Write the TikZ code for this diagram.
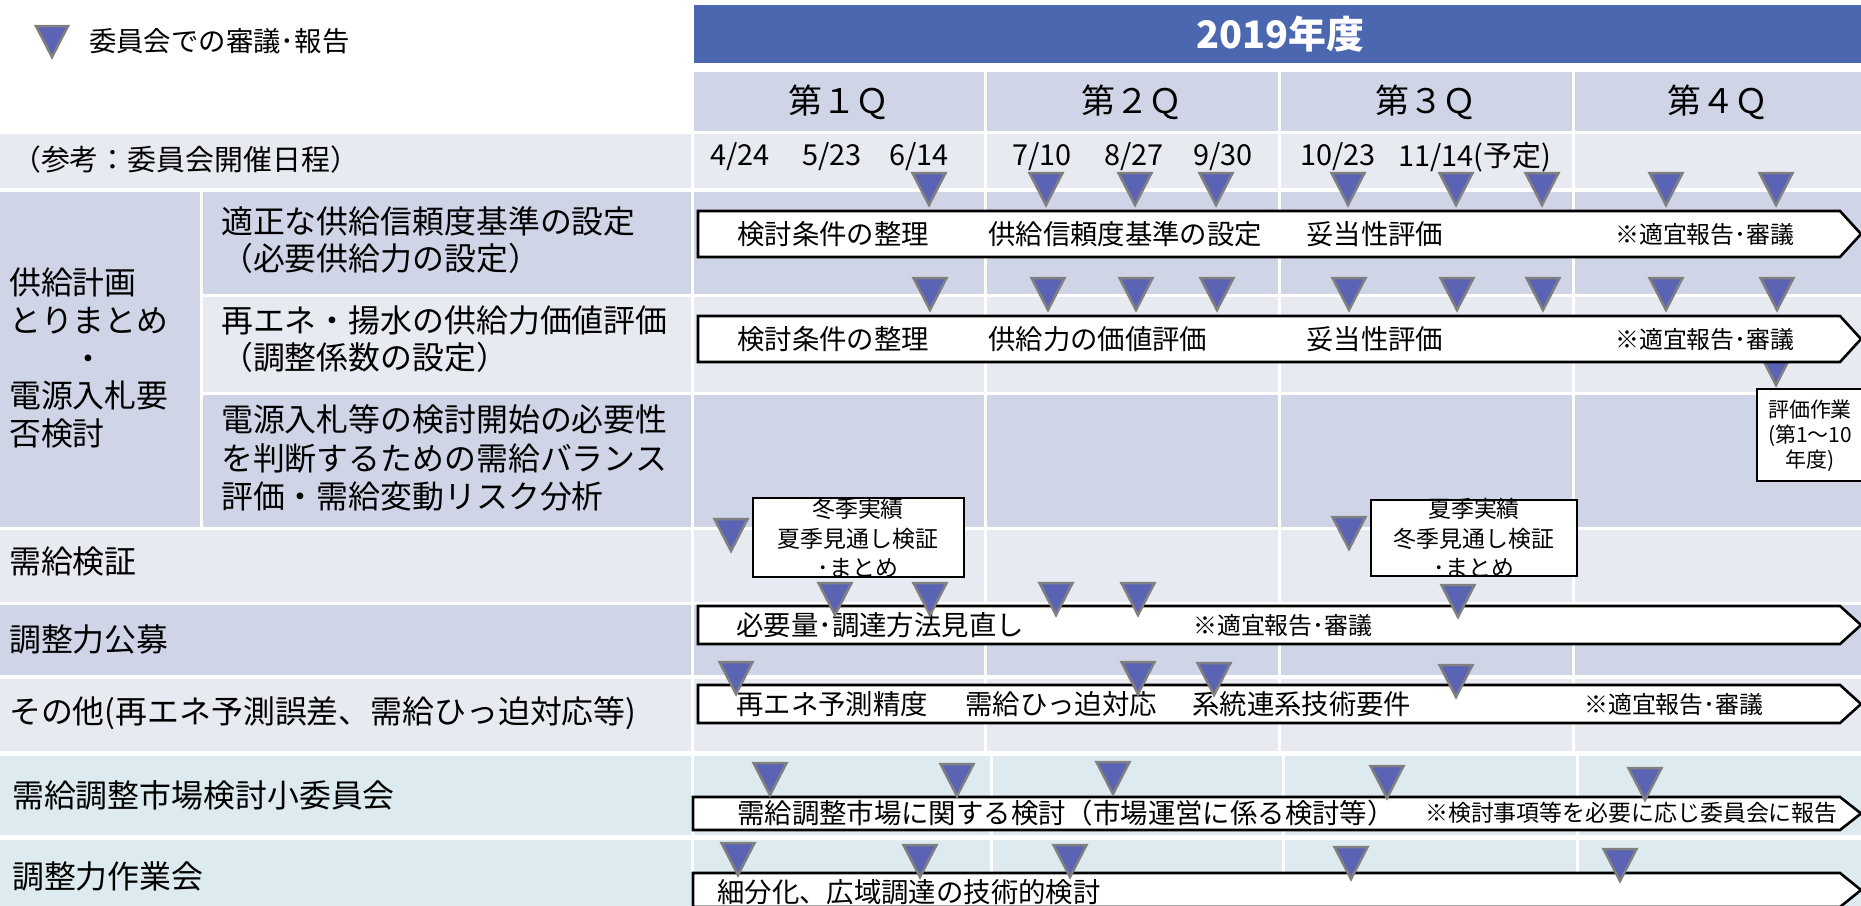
\documentclass[tikz,border=0pt]{standalone}
\usepackage{fontspec}
\setmainfont{Noto Sans CJK JP}
\definecolor{hdrblue}{HTML}{4A67AF}
\definecolor{cdark}{HTML}{CFD5E6}
\definecolor{clight}{HTML}{E8EAF2}
\definecolor{ccyan}{HTML}{DDEAEF}
\definecolor{trifill}{HTML}{5B63B5}
\definecolor{trigray}{HTML}{808080}
\tikzset{
  tri/.style={fill=trifill, draw=trigray, line width=2.5bp, line join=miter},
  barbox/.style={fill=white, draw=black, line width=2.6bp, line join=miter},
  boxnode/.style={fill=white, draw=black, line width=2.4bp},
  lbl/.style={anchor=west, inner sep=0pt, font=\fontsize{32}{38}\selectfont},
  datetxt/.style={anchor=west, inner sep=0pt, font=\fontsize{29}{32}\selectfont},
  qtxt/.style={inner sep=0pt, font=\fontsize{34}{40}\selectfont},
  bartxt/.style={anchor=west, inner sep=0pt, font=\fontsize{27.5}{32}\selectfont},
  notetxt/.style={anchor=west, inner sep=0pt, font=\fontsize{24}{28}\selectfont},
  smalltxt/.style={inner sep=0pt, align=center, font=\fontsize{23}{29.5}\selectfont},
}
\newcommand{\mtri}[2]{\draw[tri] ({#1-16.5},#2) -- ({#1+16.5},#2) -- (#1,{#2+32}) -- cycle;}
\newcommand{\mbar}[3]{\draw[barbox] (#1,#2) -- (1840,#2) -- (1861,{(#2+#3)/2}) -- (1840,#3) -- (#1,#3) -- cycle;}
\newcommand{\tcells}[3]{%
  \fill[#1] (694,#2) rectangle (984,#3);
  \fill[#1] (987,#2) rectangle (1278,#3);
  \fill[#1] (1281,#2) rectangle (1572,#3);
  \fill[#1] (1575,#2) rectangle (1861,#3);}
\newcommand{\ccells}[3]{%
  \fill[#1] (694,#2) rectangle (990,#3);
  \fill[#1] (993,#2) rectangle (1282,#3);
  \fill[#1] (1285,#2) rectangle (1576,#3);
  \fill[#1] (1579,#2) rectangle (1861,#3);}
\begin{document}
\begin{tikzpicture}[x=1bp,y=-1bp]
\useasboundingbox (0,0) rectangle (1861,906);
\clip (0,0) rectangle (1861,906);
\fill[white] (0,0) rectangle (1861,906);
% legend
\draw[tri] (36,26) -- (68,26) -- (52,57) -- cycle;
\node[anchor=west, inner sep=0pt, font=\fontsize{27.5}{30}\selectfont] (legend) at (89,41) {委員会での審議･報告};
% header
\fill[hdrblue] (694,5) rectangle (1861,63);
\node[inner sep=0pt, text=white, font=\fontsize{38}{42}\selectfont\bfseries] (year) at (1280,34) {2019年度};
% quarter row
\tcells{cdark}{72}{131}
\node[qtxt] (q1) at (839,102) {第１Ｑ};
\node[qtxt] (q2) at (1132,102) {第２Ｑ};
\node[qtxt] (q3) at (1426,102) {第３Ｑ};
\node[qtxt] (q4) at (1718,102) {第４Ｑ};
% ref row
\fill[clight] (0,134) rectangle (691,188);
\tcells{clight}{134}{188}
% supply plan group
\fill[cdark] (0,192) rectangle (200,527);
\fill[cdark] (203,192) rectangle (691,294);
\tcells{cdark}{192}{294}
\fill[clight] (203,297) rectangle (691,392);
\tcells{clight}{297}{392}
\fill[cdark] (203,395) rectangle (691,527);
\tcells{cdark}{395}{527}
% other rows
\fill[clight] (0,530) rectangle (691,602);
\tcells{clight}{530}{602}
\fill[cdark] (0,605) rectangle (691,675);
\tcells{cdark}{605}{675}
\fill[clight] (0,679) rectangle (691,751);
\tcells{clight}{679}{751}
\fill[ccyan] (0,756) rectangle (691,835);
\ccells{ccyan}{756}{835}
\fill[ccyan] (0,840) rectangle (691,906);
\ccells{ccyan}{840}{906}
% left labels
\node[lbl, font=\fontsize{29}{34}\selectfont] (ref) at (12,160) {（参考：委員会開催日程）};
\node[lbl, align=left] (grp) at (9,358) {供給計画\\とりまとめ\\\hspace*{2em}・\\電源入札要\\否検討};
\node[lbl, align=left, font=\fontsize{32}{37}\selectfont] (s1) at (221,240) {適正な供給信頼度基準の設定\\（必要供給力の設定）};
\node[lbl, align=left, font=\fontsize{32}{37}\selectfont] (s2) at (221,339) {再エネ・揚水の供給力価値評価\\（調整係数の設定）};
\node[lbl, align=left, font=\fontsize{32}{38.5}\selectfont] (s3) at (221,458) {電源入札等の検討開始の必要性\\を判断するための需給バランス\\評価・需給変動リスク分析};
\node[lbl] (l1) at (9,561) {需給検証};
\node[lbl] (l2) at (9,639) {調整力公募};
\node[lbl] (l3) at (9,713) {その他(再エネ予測誤差、需給ひっ迫対応等)};
\node[lbl] (l4) at (12,795) {需給調整市場検討小委員会};
\node[lbl] (l5) at (12,876) {調整力作業会};
% dates
\node[datetxt] (d1) at (710,157) {4/24};
\node[datetxt] (d2) at (802,157) {5/23};
\node[datetxt] (d3) at (889,157) {6/14};
\node[datetxt] (d4) at (1012,157) {7/10};
\node[datetxt] (d5) at (1104,157) {8/27};
\node[datetxt] (d6) at (1193,157) {9/30};
\node[datetxt] (d7) at (1300,157) {10/23};
\node[datetxt] (d8) at (1398,157) {11/14(予定)};
% triangle hidden under bar
\mtri{1776}{353}
% bars
\mbar{698}{211}{257}
\mbar{698}{316}{362}
\mbar{698}{606}{644}
\mbar{698}{685}{723}
\mbar{693}{797}{830}
\mbar{693}{873}{907}
% boxes
\draw[boxnode] (753,498) rectangle (964,577);
\node[smalltxt] (b1) at (858,538) {冬季実績\\夏季見通し検証\\･まとめ};
\draw[boxnode] (1371,500) rectangle (1577,576);
\node[smalltxt] (b2) at (1474,538) {夏季実績\\冬季見通し検証\\･まとめ};
\draw[boxnode] (1757,389) rectangle (1875,481);
\node[inner sep=0pt, align=center, font=\fontsize{21}{25}\selectfont] (b3) at (1810,436) {評価作業\\(第1～10\\年度)};
% bar texts
\node[bartxt] (r1a) at (737,234) {検討条件の整理};
\node[bartxt] (r1b) at (988,234) {供給信頼度基準の設定};
\node[bartxt] (r1c) at (1306,234) {妥当性評価};
\node[notetxt] (r1d) at (1615,234) {※適宜報告･審議};
\node[bartxt] (r2a) at (737,339) {検討条件の整理};
\node[bartxt] (r2b) at (988,339) {供給力の価値評価};
\node[bartxt] (r2c) at (1306,339) {妥当性評価};
\node[notetxt] (r2d) at (1615,339) {※適宜報告･審議};
\node[bartxt] (r3a) at (736,625) {必要量･調達方法見直し};
\node[notetxt] (r3b) at (1193,625) {※適宜報告･審議};
\node[bartxt] (r4a) at (736,704) {再エネ予測精度};
\node[bartxt] (r4b) at (965,704) {需給ひっ迫対応};
\node[bartxt] (r4c) at (1192,704) {系統連系技術要件};
\node[notetxt] (r4d) at (1584,704) {※適宜報告･審議};
\node[bartxt] (r5a) at (737,813) {需給調整市場に関する検討（市場運営に係る検討等）};
\node[notetxt, font=\fontsize{23}{28}\selectfont] (r5b) at (1425,813) {※検討事項等を必要に応じ委員会に報告};
\node[bartxt] (r6a) at (717,892) {細分化、広域調達の技術的検討};
% triangles: meetings
\foreach \x in {929,1046,1135,1216,1348,1456,1542,1666,1776} {\mtri{\x}{173}}
\foreach \x in {930,1048,1136,1217,1349,1457,1543,1666,1777} {\mtri{\x}{278}}
\mtri{731}{519}
\mtri{1349}{517}
\foreach \x in {835,930,1056,1138} {\mtri{\x}{583}}
\mtri{1458}{585}
\foreach \x in {736,1138} {\mtri{\x}{662}}
\mtri{1214}{663}
\mtri{1456}{665}
\mtri{770}{763}
\mtri{957}{764}
\mtri{1113}{762}
\mtri{1387}{766}
\mtri{1645}{768}
\mtri{738}{843}
\mtri{920}{845}
\mtri{1070}{845}
\mtri{1351}{847}
\mtri{1620}{849}
\end{tikzpicture}
\end{document}
